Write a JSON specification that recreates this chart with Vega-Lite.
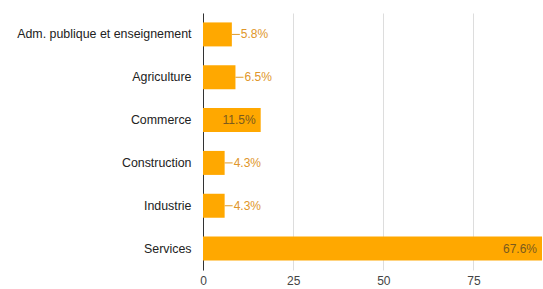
{
  "$schema": "https://vega.github.io/schema/vega-lite/v6.json",
  "width": 339,
  "height": 257,
  "autosize": {"type": "none"},
  "padding": {"left": 203, "top": 13, "right": 1, "bottom": 19},
  "background": "#ffffff",
  "config": {
    "view": {"stroke": null},
    "font": "Liberation Sans"
  },
  "data": {
    "values": [
      {"secteur": "Adm. publique et enseignement", "effectif": 8, "part": 0.058},
      {"secteur": "Agriculture", "effectif": 9, "part": 0.065},
      {"secteur": "Commerce", "effectif": 16, "part": 0.115},
      {"secteur": "Construction", "effectif": 6, "part": 0.043},
      {"secteur": "Industrie", "effectif": 6, "part": 0.043},
      {"secteur": "Services", "effectif": 94, "part": 0.676}
    ]
  },
  "encoding": {
    "y": {
      "field": "secteur",
      "type": "nominal",
      "sort": null,
      "title": null,
      "scale": {"paddingInner": 0.44, "paddingOuter": 0.22},
      "axis": {
        "ticks": false,
        "domain": true,
        "domainColor": "#333333",
        "domainWidth": 1,
        "labelFontSize": 12.4,
        "labelColor": "#222222",
        "labelPadding": 12,
        "labelLimit": 260
      }
    }
  },
  "layer": [
    {
      "mark": {"type": "bar", "color": "#ffa800"},
      "encoding": {
        "x": {
          "field": "effectif",
          "type": "quantitative",
          "title": null,
          "scale": {"domain": [0, 94], "nice": false},
          "axis": {
            "values": [0, 25, 50, 75],
            "domain": false,
            "ticks": false,
            "gridColor": "#dddddd",
            "labelFontSize": 12,
            "labelColor": "#444444",
            "labelPadding": 5,
            "labelFlush": false
          }
        }
      }
    },
    {
      "transform": [{"filter": "datum.effectif <= 10"}],
      "mark": {"type": "rule", "color": "#e09a2a", "strokeWidth": 1, "x2Offset": 8},
      "encoding": {
        "x": {"field": "effectif", "type": "quantitative"},
        "x2": {"field": "effectif"}
      }
    },
    {
      "transform": [{"filter": "datum.effectif <= 10"}],
      "mark": {"type": "text", "align": "left", "baseline": "middle", "dx": 9, "fontSize": 12, "color": "#e0962a"},
      "encoding": {
        "x": {"field": "effectif", "type": "quantitative"},
        "text": {"field": "part", "type": "quantitative", "format": ".1%"}
      }
    },
    {
      "transform": [{"filter": "datum.effectif > 10"}],
      "mark": {"type": "text", "align": "right", "baseline": "middle", "dx": -5, "fontSize": 12, "color": "#7a5a1e"},
      "encoding": {
        "x": {"field": "effectif", "type": "quantitative"},
        "text": {"field": "part", "type": "quantitative", "format": ".1%"}
      }
    }
  ]
}
